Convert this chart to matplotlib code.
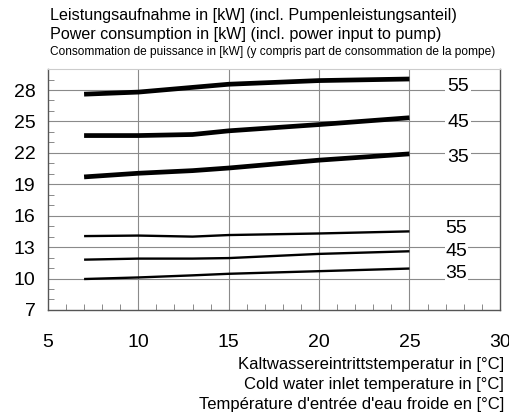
import matplotlib.pyplot as plt
from matplotlib.ticker import MultipleLocator

plt.rcParams['font.family'] = ['Liberation Sans', 'DejaVu Sans']

# cold water inlet temperature
temp = [7, 10, 13, 15, 20, 25]

# thick curves
p55_hi = [27.6, 27.8, 28.25, 28.55, 28.9, 29.05]
p45_hi = [23.65, 23.65, 23.75, 24.1, 24.7, 25.35]
p35_hi = [19.7, 20.05, 20.3, 20.55, 21.3, 21.9]
# thin curves
p55_lo = [14.05, 14.1, 14.0, 14.15, 14.3, 14.5]
p45_lo = [11.8, 11.9, 11.9, 11.95, 12.35, 12.6]
p35_lo = [9.95, 10.1, 10.3, 10.45, 10.7, 10.95]

labels_hi = ["55", "45", "35"]
labels_hi_y = [28.3, 24.9, 21.6]
labels_lo = ["55", "45", "35"]
labels_lo_y = [14.8, 12.6, 10.5]

yticks = [7, 10, 13, 16, 19, 22, 25, 28]
xticks = [5, 10, 15, 20, 25, 30]

fig = plt.figure(figsize=(5.1, 4.16), dpi=100)
ax = fig.add_axes([0.094, 0.255, 0.886, 0.579])

ax.set_xlim(5, 30)
ax.set_ylim(7, 30)

for y in [10, 13, 16, 19, 22, 25, 28]:
    ax.axhline(y, color='#8a8a8a', lw=0.8, zorder=1)
for x in [10, 15, 20, 25]:
    ax.axvline(x, color='#8a8a8a', lw=0.8, zorder=1)

for s in [p55_hi, p45_hi, p35_hi]:
    ax.plot(temp, s, color='black', lw=3.4, solid_capstyle='butt', zorder=3)
for s in [p55_lo, p45_lo, p35_lo]:
    ax.plot(temp, s, color='black', lw=1.7, solid_capstyle='butt', zorder=3)

for t, y in zip(labels_hi, labels_hi_y):
    ax.text(27.7, y, t, ha='center', va='center', fontsize=14, zorder=4,
            bbox=dict(facecolor='white', edgecolor='none', pad=1.5))
for t, y in zip(labels_lo, labels_lo_y):
    ax.text(27.6, y, t, ha='center', va='center', fontsize=14, zorder=4,
            bbox=dict(facecolor='white', edgecolor='none', pad=0.3))

ax.set_xticks(xticks)
ax.set_yticks(yticks)
ax.xaxis.set_minor_locator(MultipleLocator(1))
ax.yaxis.set_minor_locator(MultipleLocator(1))
ax.tick_params(axis='both', which='both', direction='in', labelsize=14)
ax.tick_params(axis='x', which='major', length=0, pad=17)
ax.tick_params(axis='y', which='major', length=0, pad=9)
ax.tick_params(which='minor', length=4, width=0.6, color='#777777')

for side in ['left', 'bottom', 'right']:
    ax.spines[side].set_color('#555555')
    ax.spines[side].set_linewidth(1.0)
ax.spines['top'].set_color('#cccccc')
ax.spines['top'].set_linewidth(0.8)

title = ["Leistungsaufnahme in [kW] (incl. Pumpenleistungsanteil)",
         "Power consumption in [kW] (incl. power input to pump)"]
fig.text(0.098, 0.962, title[0], fontsize=11.6, va='center', ha='left')
fig.text(0.098, 0.917, title[1], fontsize=11.6, va='center', ha='left')
fig.text(0.098, 0.874,
         "Consommation de puissance in [kW] (y compris part de consommation de la pompe)",
         fontsize=8.6, va='center', ha='left',
         family=['Liberation Sans Narrow', 'Liberation Sans', 'DejaVu Sans'])

xl = ["Kaltwassereintrittstemperatur in [°C]",
      "Cold water inlet temperature in [°C]",
      "Température d'entrée d'eau froide en [°C]"]
for i, t in enumerate(xl):
    fig.text(0.988, 0.123 - i * 0.048, t, fontsize=12, ha='right', va='center')

fig.savefig('out.png', dpi=100)
